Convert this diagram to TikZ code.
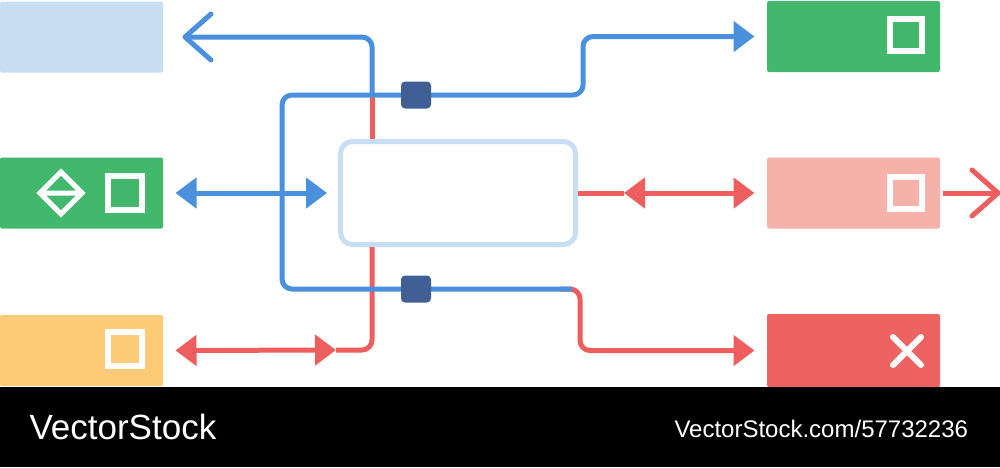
\documentclass[tikz,border=0pt]{standalone}
\usepackage{fontspec}
\setmainfont{Liberation Sans}
\usetikzlibrary{arrows.meta}
\definecolor{lblue}{HTML}{C8DEF2}
\definecolor{boxgreen}{HTML}{41B86C}
\definecolor{boxyellow}{HTML}{FDCB75}
\definecolor{boxpink}{HTML}{F6B1AA}
\definecolor{boxred}{HTML}{EF6262}
\definecolor{lineblue}{HTML}{4A90DC}
\definecolor{linered}{HTML}{EF5E5E}
\definecolor{plugdark}{HTML}{405F95}

\begin{document}
\begin{tikzpicture}[x=1pt,y=-1pt,line width=5pt,>={Triangle[length=21pt,width=30pt]},
panel/.style={rectangle,inner sep=0pt,minimum width=163pt,minimum height=71pt,rounded corners=2pt},
icon/.style={draw=white,line width=6pt,minimum size=34pt,inner sep=0pt},
plug/.style={fill=plugdark,rounded corners=4pt,minimum width=30pt,minimum height=27pt,inner sep=0pt},
bl/.style={draw=lineblue,rounded corners=10pt},
rd/.style={draw=linered,rounded corners=10pt},
barb/.style={-{Straight Barb[length=26pt,width=46pt,round]}}]
\useasboundingbox (0,0) rectangle (1000,467);

% boxes
\node[panel,fill=lblue] (inL) at (81.5,37) {};
\node[panel,fill=boxgreen] (gL) at (81.5,193) {};
\node[panel,fill=boxyellow] (yL) at (81.5,350.5) {};
\node[panel,fill=boxgreen,minimum width=173pt] (gR) at (853.5,36.5) {};
\node[panel,fill=boxpink,minimum width=173pt] (pR) at (853.5,193) {};
\node[panel,fill=boxred,minimum width=173pt,minimum height=73pt] (rR) at (853.5,350.5) {};
\node[draw=lblue,rounded corners=12pt,minimum width=235pt,minimum height=103pt] (hub) at (458,193) {};

% icons
\draw[white,line width=5pt] (61,172) -- (82,193) -- (61,214) -- (40,193) -- cycle (40,193) -- (82,193);
\node[icon] (sqG) at (125,193) {};
\node[icon] (sqY) at (125,349) {};
\node[icon,minimum size=32pt] (sqR) at (906,35) {};
\node[icon,minimum size=32pt] (sqP) at (906,193) {};
\draw[white,line width=6pt,line cap=round] (893,337) -- (921,365) (893,365) -- (921,337);

\coordinate (cA) at (372,95);
\coordinate (cL) at (282,95);
\coordinate (cT) at (583,95);
\coordinate (cS) at (572,289);
\coordinate (cR) at (560,289);
\coordinate (cD) at (580,289);
\coordinate (mY) at (336,350);
\coordinate (mP) at (624,193);

% red links
\draw[rd] (hub.north -| cA) -- (cA);
\draw[rd,<->] ([xshift=10pt]yL.east) -- (mY);
\draw[rd] (mY) -| (hub.south -| cA);
\draw[rd] (hub.east) -- (mP);
\draw[rd,<->] (mP) -- ([xshift=-10pt]pR.west);
\draw[rd,barb] (pR.east) -- ++(58,0);
\draw[rd,->] (cR) -- (cD) |- ([xshift=-10pt]rR.west);

% blue links
\draw[bl,barb] (cA) |- ([xshift=17pt]inL.east);
\draw[bl,->] (cS) -| (cL) -- (cT) |- ([xshift=-10pt]gR.west);
\draw[bl,<->] ([xshift=10pt]gL.east) -- ([xshift=-11pt]hub.west);

\node[plug] (pTop) at (416,95) {};
\node[plug] (pBot) at (416,289) {};

% footer
\fill[black] (0,387) rectangle (1000,467);
\node[white,anchor=base west,inner sep=0pt,font=\fontsize{35}{40}\selectfont] (brand) at (27,439) {VectorStock};
\node[white,anchor=base west,inner sep=0pt,font=\fontsize{24}{28}\selectfont] (ref) at (672,437) {VectorStock.com/57732236};
\end{tikzpicture}
\end{document}
